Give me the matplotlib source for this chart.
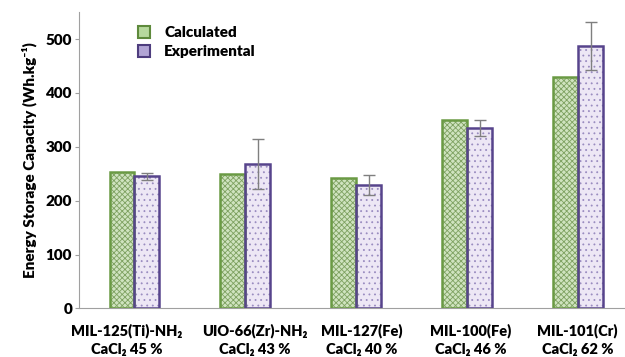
import matplotlib
matplotlib.use("Agg")
import matplotlib.pyplot as plt
import matplotlib.patches as mpatches
import matplotlib.transforms as mtransforms
import numpy as np

plt.rcParams['font.family'] = ['Lato', 'DejaVu Sans']
plt.rcParams['font.weight'] = 'heavy'
plt.rcParams['hatch.linewidth'] = 0.6

categories = ["MIL-125(Ti)-NH\u2082\nCaCl\u2082 45 %",
              "UIO-66(Zr)-NH\u2082\nCaCl\u2082 43 %",
              "MIL-127(Fe)\nCaCl\u2082 40 %",
              "MIL-100(Fe)\nCaCl\u2082 46 %",
              "MIL-101(Cr)\nCaCl\u2082 62 %"]
calculated = [254, 249, 243, 350, 430]
experimental = [245, 268, 229, 335, 487]
exp_err = [6, 47, 18, 14, 45]
yticks = [0, 100, 200, 300, 400, 500]

fig = plt.figure(figsize=(6.25, 3.57), dpi=100)
ax = fig.add_axes([0.1264, 0.136, 0.8736, 0.830])

x = np.arange(len(categories))
w = 0.225

calc_fill = '#cfe3bf'
calc_hatch = '#7ea161'
calc_edge = '#6a9a44'
exp_fill = '#ede7f5'
exp_hatch = '#9a8cc0'
exp_edge = '#57448c'

ax.bar(x - w/2, calculated, w, color=calc_fill, edgecolor=calc_hatch, hatch='xxxxxx', linewidth=0, zorder=2)
ax.bar(x + w/2, experimental, w, color=exp_fill, edgecolor=exp_hatch, hatch='...', linewidth=0, zorder=2)
ax.bar(x - w/2, calculated, w, fill=False, edgecolor=calc_edge, linewidth=1.8, zorder=3)
ax.bar(x + w/2, experimental, w, fill=False, edgecolor=exp_edge, linewidth=1.8, zorder=3)
ax.errorbar(x + w/2, experimental, yerr=exp_err, fmt='none', ecolor='#7f7f7f',
            elinewidth=1.0, capsize=4, capthick=1.0, zorder=4)

ax.set_xlim(-0.5, 4.42)
ax.set_ylim(0, 550)
ax.set_yticks(yticks)
ax.set_yticklabels([str(v) for v in yticks], fontsize=11, fontweight='heavy')
ax.set_xticks(x)
labels = ax.set_xticklabels(categories, fontsize=10.5, fontweight='heavy', linespacing=1.45)
ax.tick_params(axis='x', length=0, pad=10.5)
ax.tick_params(axis='y', length=3, color='#a0a0a0', pad=2)
# the source places its category labels slightly off the group centres
label_shift_px = [-8, 9, 5, 3, -1]
for lab, dx in zip(labels, label_shift_px):
    lab.set_transform(lab.get_transform() + mtransforms.ScaledTranslation(dx / 100, 0, fig.dpi_scale_trans))
for s in ['top', 'right']:
    ax.spines[s].set_visible(False)
ax.spines['left'].set_color('#a0a0a0')
ax.spines['bottom'].set_color('#a0a0a0')
ax.set_ylabel('Energy Storage Capacity (Wh.kg\u207b\u00b9)', fontsize=11, fontweight='heavy', labelpad=6)

handles = [mpatches.Patch(facecolor='#b7d99e', edgecolor='#5e8a3c', linewidth=1.5, label='Calculated'),
           mpatches.Patch(facecolor='#b2a5d5', edgecolor='#4e3d7e', linewidth=1.5, label='Experimental')]
ax.legend(handles=handles, loc='upper left', bbox_to_anchor=(0.083, 1.0), frameon=False,
          prop={'size': 11, 'weight': 'heavy'}, handlelength=0.8, handleheight=0.8,
          handletextpad=0.9, labelspacing=0.4)

fig.savefig('out.png', dpi=100)
